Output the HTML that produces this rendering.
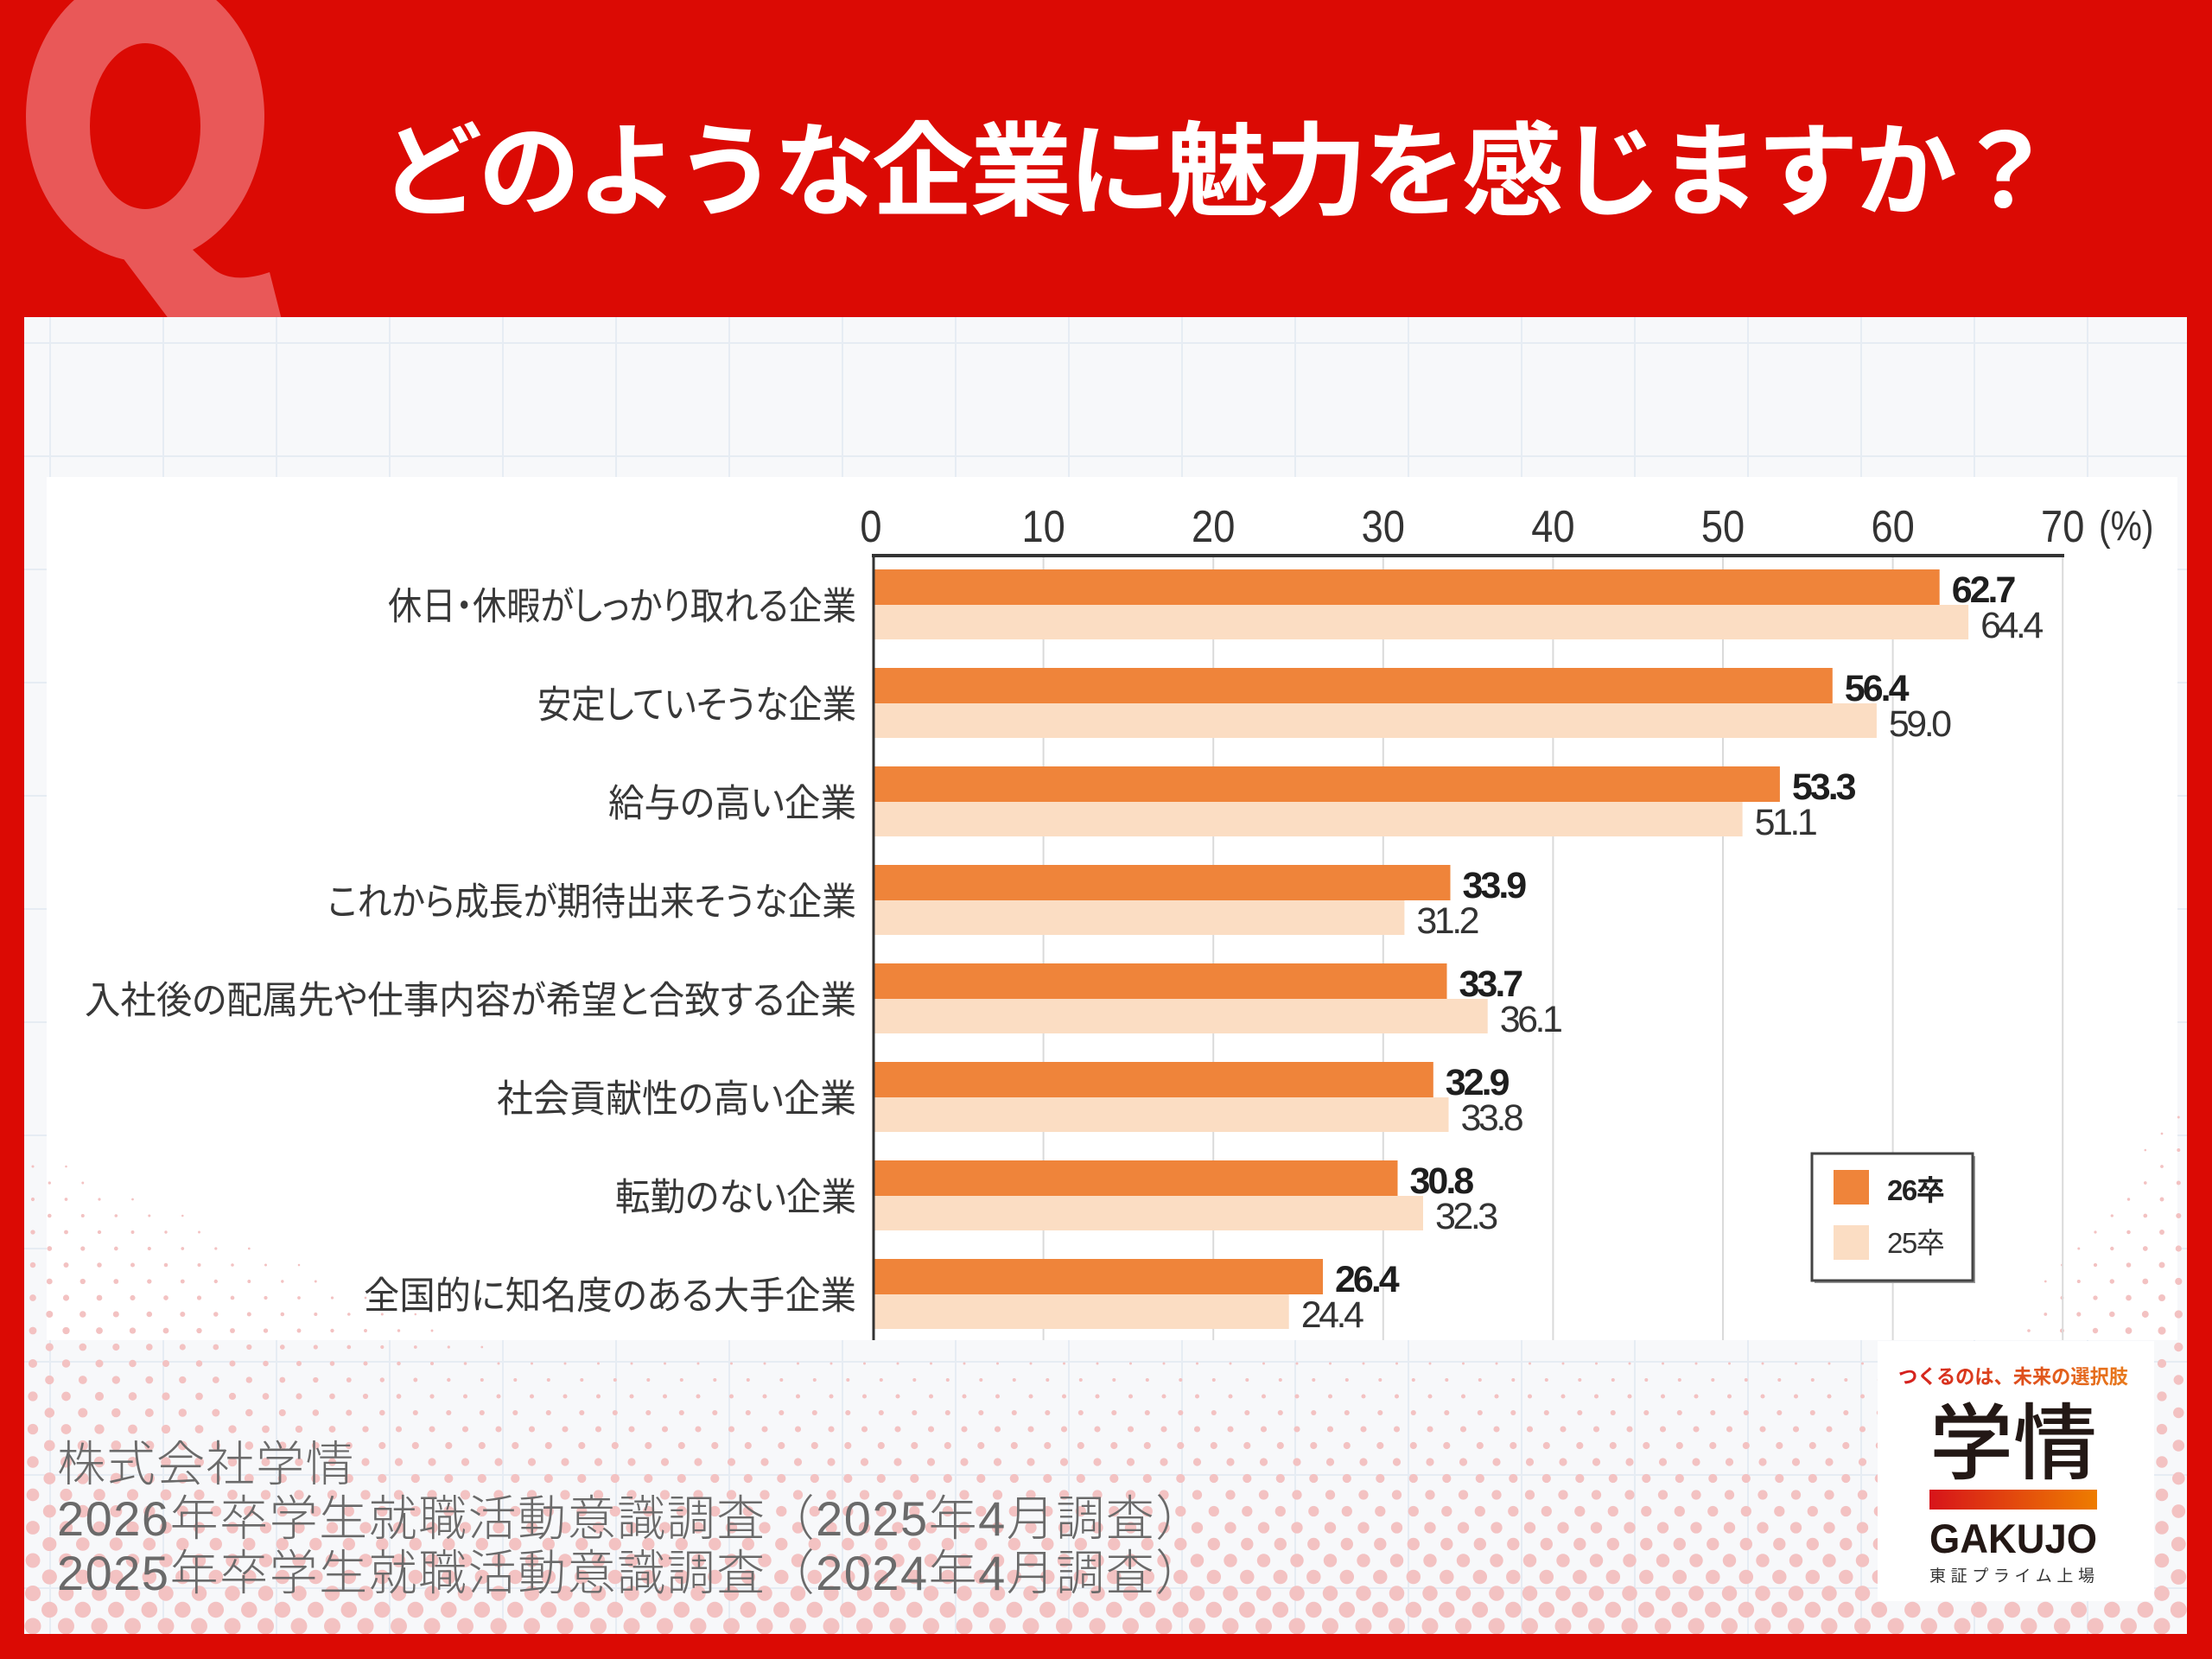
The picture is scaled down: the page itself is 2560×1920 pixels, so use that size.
<!DOCTYPE html>
<html><head><meta charset="utf-8">
<style>
html,body{margin:0;padding:0;width:2560px;height:1920px;overflow:hidden;background:#DB0A04;}
svg{display:block}
.lab{font-family:"Liberation Sans","Noto Sans CJK JP",sans-serif;font-feature-settings:"palt";}
.num{font-family:"Liberation Sans",Arial,sans-serif;}
.jp{font-family:"Liberation Sans","Noto Sans CJK JP",sans-serif;}
</style></head><body>
<svg width="2560" height="1920" viewBox="0 0 2560 1920" xmlns="http://www.w3.org/2000/svg">
<defs>
<pattern id="grid" x="57" y="396" width="131" height="131" patternUnits="userSpaceOnUse">
<path d="M1 0V131M0 1H131" stroke="#E6ECF3" stroke-width="2" fill="none"/>
</pattern>
<linearGradient id="lg" x1="0" x2="1" y1="0" y2="0"><stop offset="0" stop-color="#D7141A"/><stop offset="1" stop-color="#EE7D00"/></linearGradient>
<linearGradient id="tg" x1="0" x2="1" y1="0" y2="0"><stop offset="0" stop-color="#D41E1E"/><stop offset="1" stop-color="#E87A1C"/></linearGradient>
<clipPath id="pc"><rect x="28" y="367" width="2503" height="1524"/></clipPath>
</defs>

<!-- red background -->
<rect x="0" y="0" width="2560" height="1920" fill="#DB0A04"/>
<!-- Q -->
<path fill="#E95858" fill-rule="evenodd" d="M30,135 a138,168 0 1,0 276,0 a138,168 0 1,0 -276,0 Z M104,146 a64,96 0 1,0 128,0 a64,96 0 1,0 -128,0 Z"/>
<path fill="#E95858" d="M132,285 L196,370 L326,370 L312,315 C292,322 266,326 248,312 C234,300 222,288 216,282 Z"/>

<!-- title -->
<text x="440" y="240" class="jp" font-size="118" font-weight="700" fill="#FFFFFF" style="letter-spacing:-4.2px">どのような企業に魅力を感じますか？</text>

<!-- panel -->
<rect x="28" y="367" width="2503" height="1524" fill="#F7F8FA"/>
<rect x="28" y="367" width="2503" height="1524" fill="url(#grid)"/>
<!-- chart white box -->
<rect x="54" y="552" width="2466" height="999" fill="#FFFFFF"/>

<!-- dots -->
<g id="dots" fill="#F3C2C2" clip-path="url(#pc)"></g>

<!-- logo box -->
<rect x="2173" y="1552" width="320" height="301" fill="#FFFFFF"/>

<!-- gridlines -->
<g stroke="#DADADA" stroke-width="2">
<line x1="1207.6" y1="645" x2="1207.6" y2="1551"/>
<line x1="1404.2" y1="645" x2="1404.2" y2="1551"/>
<line x1="1600.8" y1="645" x2="1600.8" y2="1551"/>
<line x1="1797.4" y1="645" x2="1797.4" y2="1551"/>
<line x1="1994" y1="645" x2="1994" y2="1551"/>
<line x1="2190.6" y1="645" x2="2190.6" y2="1551"/>
<line x1="2387.2" y1="645" x2="2387.2" y2="1551"/>
</g>

<!-- bars -->
<g fill="#EF843A">
<rect x="1012" y="659" width="1232.7" height="41"/>
<rect x="1012" y="773" width="1108.8" height="41"/>
<rect x="1012" y="887" width="1047.9" height="41"/>
<rect x="1012" y="1001" width="666.5" height="41"/>
<rect x="1012" y="1115" width="662.5" height="41"/>
<rect x="1012" y="1229" width="646.8" height="41"/>
<rect x="1012" y="1343" width="605.5" height="41"/>
<rect x="1012" y="1457" width="519.0" height="41"/>
</g>
<g fill="#FBDDC3">
<rect x="1012" y="700" width="1266.1" height="40"/>
<rect x="1012" y="814" width="1159.9" height="40"/>
<rect x="1012" y="928" width="1004.6" height="40"/>
<rect x="1012" y="1042" width="613.4" height="40"/>
<rect x="1012" y="1156" width="709.7" height="40"/>
<rect x="1012" y="1270" width="664.5" height="40"/>
<rect x="1012" y="1384" width="635.0" height="40"/>
<rect x="1012" y="1498" width="479.7" height="40"/>
</g>

<!-- axes -->
<line x1="1009" y1="643" x2="2389" y2="643" stroke="#333" stroke-width="4"/>
<line x1="1011" y1="641" x2="1011" y2="1551" stroke="#333" stroke-width="3"/>

<!-- tick labels -->
<g class="num" font-size="52" fill="#333" text-anchor="middle">
<text transform="translate(1008,627) scale(0.87,1)">0</text>
<text transform="translate(1207.6,627) scale(0.87,1)">10</text>
<text transform="translate(1404.2,627) scale(0.87,1)">20</text>
<text transform="translate(1600.8,627) scale(0.87,1)">30</text>
<text transform="translate(1797.4,627) scale(0.87,1)">40</text>
<text transform="translate(1994,627) scale(0.87,1)">50</text>
<text transform="translate(2190.6,627) scale(0.87,1)">60</text>
<text transform="translate(2387.2,627) scale(0.87,1)">70</text>
</g>
<text class="num" transform="translate(2429,625) scale(0.85,1)" font-size="48" fill="#333">(%)</text>

<!-- category labels -->
<g class="lab" font-size="44" fill="#383838" text-anchor="end">
<text x="991" y="716.5" textLength="542" lengthAdjust="spacingAndGlyphs">休日・休暇がしっかり取れる企業</text>
<text x="991" y="830.5" textLength="369" lengthAdjust="spacingAndGlyphs">安定していそうな企業</text>
<text x="991" y="944.5" textLength="287" lengthAdjust="spacingAndGlyphs">給与の高い企業</text>
<text x="991" y="1058.5" textLength="612" lengthAdjust="spacingAndGlyphs">これから成長が期待出来そうな企業</text>
<text x="991" y="1172.5" textLength="893" lengthAdjust="spacingAndGlyphs">入社後の配属先や仕事内容が希望と合致する企業</text>
<text x="991" y="1286.5" textLength="416" lengthAdjust="spacingAndGlyphs">社会貢献性の高い企業</text>
<text x="991" y="1400.5" textLength="279" lengthAdjust="spacingAndGlyphs">転勤のない企業</text>
<text x="991" y="1514.5" textLength="570" lengthAdjust="spacingAndGlyphs">全国的に知名度のある大手企業</text>
</g>

<!-- value labels 26 -->
<g class="num" font-size="43" font-weight="700" fill="#1E1E1E" style="letter-spacing:-3px">
<text x="2258.7" y="697">62.7</text>
<text x="2134.8" y="811">56.4</text>
<text x="2073.9" y="925">53.3</text>
<text x="1692.5" y="1039">33.9</text>
<text x="1688.5" y="1153">33.7</text>
<text x="1672.8" y="1267">32.9</text>
<text x="1631.5" y="1381">30.8</text>
<text x="1545" y="1495">26.4</text>
</g>
<!-- value labels 25 -->
<g class="num" font-size="43" fill="#333" style="letter-spacing:-3.5px">
<text x="2292.1" y="738">64.4</text>
<text x="2185.9" y="852">59.0</text>
<text x="2030.6" y="966">51.1</text>
<text x="1639.4" y="1080">31.2</text>
<text x="1735.7" y="1194">36.1</text>
<text x="1690.5" y="1308">33.8</text>
<text x="1661" y="1422">32.3</text>
<text x="1505.7" y="1536">24.4</text>
</g>

<!-- legend -->
<rect x="2100" y="1338" width="186" height="147" fill="#9a9a9a"/>
<rect x="2097" y="1335" width="186" height="147" fill="#FFFFFF" stroke="#444" stroke-width="3"/>
<rect x="2122" y="1354" width="41" height="40" fill="#EF843A"/>
<rect x="2122" y="1418" width="41" height="40" fill="#FBDDC3"/>
<text x="2184" y="1389" class="jp" font-size="33" font-weight="700" fill="#222" style="letter-spacing:-1.5px">26卒</text>
<text x="2184" y="1450" class="jp" font-size="33" fill="#333" style="letter-spacing:-1.5px">25卒</text>

<!-- bottom source text -->
<g class="jp" font-size="56" font-weight="300" fill="#6A6A6A" style="letter-spacing:1.5px">
<text x="66" y="1714">株式会社学情</text>
<text x="66" y="1777">2026年卒学生就職活動意識調査（2025年4月調査）</text>
<text x="66" y="1840">2025年卒学生就職活動意識調査（2024年4月調査）</text>
</g>

<!-- logo -->
<text x="2197" y="1601" class="jp" font-size="23" font-weight="700" fill="url(#tg)" textLength="266" lengthAdjust="spacingAndGlyphs">つくるのは、未来の選択肢</text>
<text x="2233" y="1704" class="jp" font-size="96" font-weight="500" fill="#231815" textLength="194" lengthAdjust="spacingAndGlyphs">学情</text>
<rect x="2233" y="1724" width="194" height="23" fill="url(#lg)"/>
<text x="2233" y="1797" class="num" font-size="47" font-weight="700" fill="#231815" textLength="194" lengthAdjust="spacingAndGlyphs">GAKUJO</text>
<text x="2233" y="1830" class="jp" font-size="19" fill="#333" textLength="191" lengthAdjust="spacing">東証プライム上場</text>
</svg>
<script>
(function(){
var g=document.getElementById('dots');
var ns='http://www.w3.org/2000/svg';
for(var k=0;k<60;k++){
  var y=1882-19*k; if(y<1150)break;
  for(var j=-1;j<70;j++){
    var x=38+38.5*j+((k%2)?19.25:0);
    if(x<22||x>2540)continue;
    var A=(y-1560)/330, B=(y-1300)/590 - x/1400, C=(y-1250)/640-(2530-x)/500;
    var f=Math.max(A,B,C); if(f<0.03)continue;
    var d=2+18*f; if(d>19)d=19;
    var c=document.createElementNS(ns,'circle');
    c.setAttribute('cx',x.toFixed(1));c.setAttribute('cy',y);c.setAttribute('r',(d/2).toFixed(2));
    g.appendChild(c);
  }
}
})();
</script>
</body></html>
